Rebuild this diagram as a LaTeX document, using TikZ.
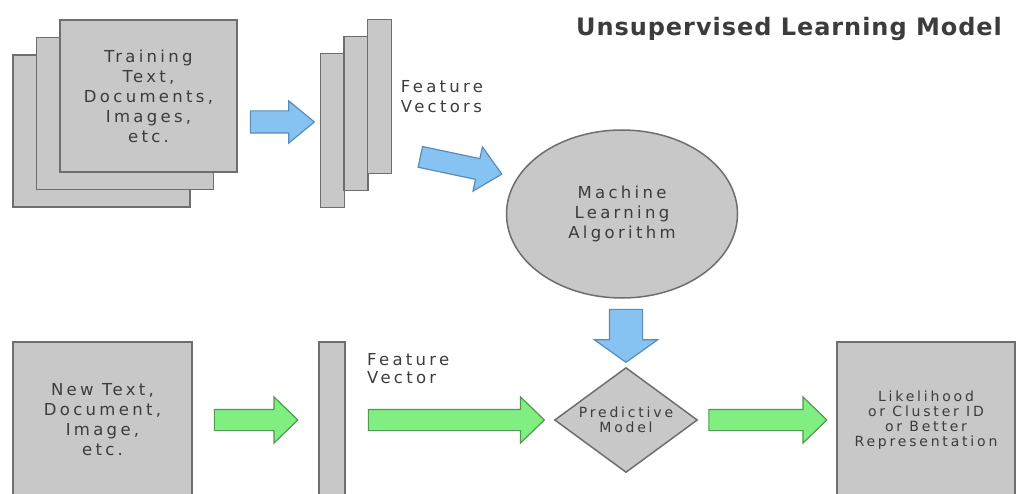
\documentclass[tikz,border=0pt]{standalone}
\usepackage{fontspec}
\newfontfamily\lblfont[LetterSpace=20]{DejaVu Sans}
\newfontfamily\ttlfont[LetterSpace=4]{DejaVu Sans}
\usetikzlibrary{shapes.geometric, shapes.arrows, positioning, calc}

\definecolor{boxgray}{HTML}{C8C8C8}
\definecolor{boxline}{HTML}{6E6E6E}
\definecolor{bluefill}{HTML}{86C2F2}
\definecolor{blueline}{HTML}{5A8CB8}
\definecolor{greenfill}{HTML}{80EE80}
\definecolor{greenline}{HTML}{4E9A4E}
\definecolor{txt}{HTML}{3C3C3C}

\tikzset{
  fat/.style={to path={let \p1=(\tikztostart), \p2=(\tikztotarget),
      \n1={veclen(\x2-\x1,\y2-\y1)}, \n2={atan2(\y2-\y1,\x2-\x1)} in
      (\tikztostart) node[single arrow, anchor=tail, rotate=\n2,
      minimum height=\n1, inner sep=0pt, #1] {} (\tikztotarget)}}
}

\begin{document}
\begin{tikzpicture}[x=1pt, y=-1pt]
    % Stili
    \tikzstyle{sheet} = [draw=boxline, fill=boxgray, line width=1.5pt, minimum width=177pt, minimum height=152pt, inner sep=0pt]
    \tikzstyle{bar} = [sheet, minimum width=24pt, minimum height=154pt]
    \tikzstyle{lbl} = [text=txt, font={\lblfont\fontsize{16.5}{20}\selectfont}, align=center]
    \tikzstyle{small} = [text=txt, font={\lblfont\fontsize{14}{15}\selectfont}, align=center]
    \tikzstyle{blu} = [fill=bluefill, draw=blueline, line width=1.2pt]
    \tikzstyle{grn} = [fill=greenfill, draw=greenline, line width=1.2pt,
        inner ysep=10pt, single arrow head extend=12.5pt, single arrow tip angle=88]

    \useasboundingbox (0,0) rectangle (1019,494);

    % Nodi
    \node [sheet] (doc1) at (101.5,131) {};
    \node [sheet] (doc2) at ($(doc1)+(23.5,-17.5)$) {};
    \node [sheet, lbl] (doc3) at ($(doc2)+(23.5,-17.5)$) {Training\\Text,\\Documents,\\Images,\\etc.};

    \node [bar] (vec1) at (332.5,130.5) {};
    \node [bar] (vec2) at ($(vec1)+(23.5,-17)$) {};
    \node [bar] (vec3) at ($(vec2)+(23.5,-17)$) {};
    \node [lbl, align=left, inner sep=0pt, right=8.5pt of vec3] (vecs) {Feature\\Vectors};

    \node [draw=boxline, fill=boxgray, line width=1.5pt, ellipse, minimum width=231pt,
        minimum height=168pt, inner sep=0pt, lbl] (ml) at (622,214) {Machine\\Learning\\Algorithm};
    \node [text=txt, font={\ttlfont\bfseries\fontsize{24}{28}\selectfont}] (title) at (789,29) {Unsupervised Learning Model};

    \node [sheet, lbl, minimum width=179pt, minimum height=156pt] (newdoc) at (102.5,420) {New Text,\\Document,\\Image,\\etc.};
    \node [bar, minimum width=26pt, minimum height=156pt] (newvec) at (332,420) {};
    \node [lbl, align=left, inner sep=0pt, font={\lblfont\fontsize{16.5}{18}\selectfont}, anchor=west] (vec) at (367,369) {Feature\\Vector};
    \node [diamond, aspect=1.36, draw=boxline, fill=boxgray, line width=1.5pt, minimum width=143pt,
        minimum height=105pt, inner sep=0pt, small] (pred) at (626,420) {Predictive\\Model};
    \node [sheet, small, minimum width=178pt, minimum height=156pt] (out) at (926,420) {Likelihood\\or Cluster ID\\or Better\\Representation};

    % Collegamenti
    \path ($(doc3.east)+(12,26)$) to[fat={blu, inner ysep=10.5pt, single arrow head extend=10pt, single arrow tip angle=79}] ($(vec1.west)+(-6,-8.5)$);
    \path ($(vec3.south east)+(27.5,-17.5)$) to[fat={blu, inner ysep=10pt, single arrow head extend=12pt, single arrow tip angle=85}] ($(ml.west)+(-4.5,-40)$);
    \path ($(ml.south -| pred.north)+(0,10)$) to[fat={blu, inner ysep=16pt, single arrow head extend=15pt, single arrow tip angle=109}] ($(pred.north)+(0,-5)$);
    \path ($(newdoc.east)+(21,0)$) to[fat=grn] ($(newvec.west)+(-21,0)$);
    \path ($(newvec.east)+(22,0)$) to[fat=grn] ($(pred.west)+(-10,0)$);
    \path ($(pred.east)+(10,0)$) to[fat=grn] ($(out.west)+(-10,0)$);
\end{tikzpicture}
\end{document}
